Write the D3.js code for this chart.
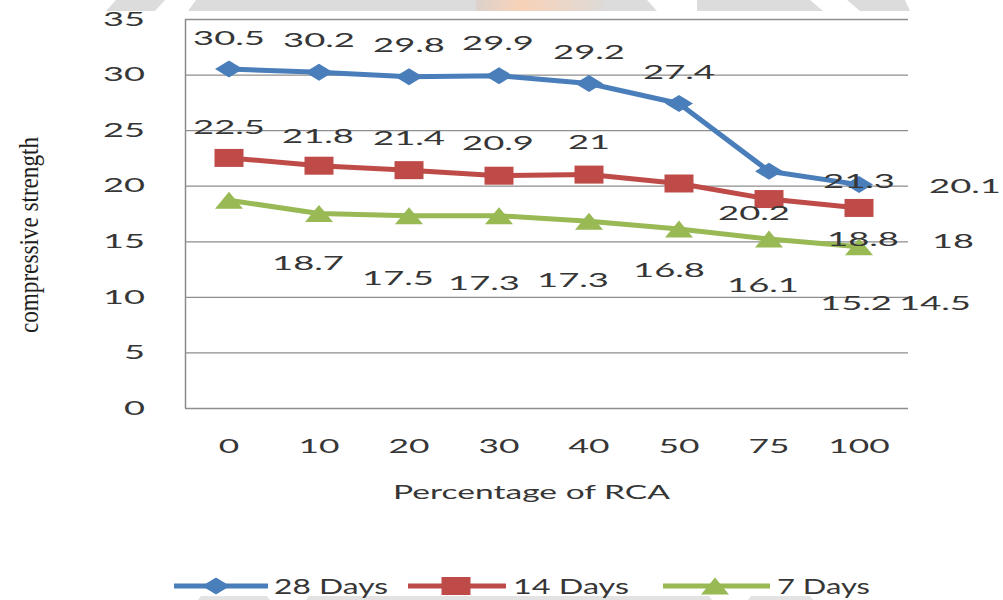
<!DOCTYPE html>
<html>
<head>
<meta charset="utf-8">
<script src="https://cdnjs.cloudflare.com/ajax/libs/d3/7.8.5/d3.min.js"></script>
<style>
  html, body { margin: 0; padding: 0; background: #fff; }
  svg { display: block; }
</style>
</head>
<body>
<svg id="chart" width="1003" height="600"></svg>
<script>
// ---------------- data ----------------
const categories = ["0", "10", "20", "30", "40", "50", "75", "100"];
const days28 = [30.5, 30.2, 29.8, 29.9, 29.2, 27.4, 21.3, 20.1];
const days14 = [22.5, 21.8, 21.4, 20.9, 21, 20.2, 18.8, 18];
const days7  = [18.7, 17.5, 17.3, 17.3, 16.8, 16.1, 15.2, 14.5];
const seriesNames = ["28 Days", "14 Days", "7 Days"];
const yTicks = [0, 5, 10, 15, 20, 25, 30, 35];
const xTitle = "Percentage of RCA";
const yTitle = "compressive strength";

// label placement offsets (pixels from the point to the label centre)
const lab28dx = [0, 0, 0, -1, 0, 0, 90, 106];
const lab28dy = [-31, -32, -32, -33, -31, -31, 10, 1];
const lab14dx = [0, -1, 0, -1, 0, 75, 94, 94];
const lab14dy = [-31, -30, -32, -33, -33, 30, 40, 33];
const lab7dx  = [79, 79, 75, 74, 80, 84, 87, 76];
const lab7dy  = [63, 64, 67, 64, 49, 56, 64, 56];

(function () {
// ---------------- setup ----------------
const svg = d3.select("#chart");
const FONT = "Lato, 'Open Sans', sans-serif";
const TXT = "#363636";
const pLeft = 185, pRight = 908, pTop = 19, pBottom = 408;

const x = d3.scaleBand().domain(categories).range([184, 904]);
const y = d3.scaleLinear().domain([0, 35]).range([pBottom, pTop]);
const cx = c => x(c) + x.bandwidth() / 2;

const colors = ["#4A7EBB", "#BE4B48", "#98B954"];

function textWidth(s, digitW, dotW) {
  let w = 0;
  for (const ch of s) w += (ch === "." ? dotW : digitW);
  return w;
}

// ---------------- watermark strips ----------------
const wm = svg.append("g");
const grad = svg.append("defs").append("linearGradient").attr("id", "og")
  .attr("x1", 0).attr("x2", 1);
grad.append("stop").attr("offset", 0).attr("stop-color", "#dcd2cc");
grad.append("stop").attr("offset", 0.35).attr("stop-color", "#f8d2b8");
grad.append("stop").attr("offset", 1).attr("stop-color", "#dedad7");
const wmShapes = [
  {p: [[106,11],[116,0],[165,0],[155,11]], f: "#dcdcdc"},
  {p: [[188,11],[196,0],[476,0],[476,11]], f: "#dcdcdc"},
  {p: [[476,0],[604,0],[604,11],[476,11]], f: "url(#og)"},
  {p: [[604,0],[647,0],[657,11],[604,11]], f: "#dcdcdc"},
  {p: [[697,0],[810,0],[823,11],[697,11]], f: "#dcdcdc"},
  {p: [[847,0],[905,0],[910,11],[860,11]], f: "#dcdcdc"},
  {p: [[198,600],[201,596],[267,596],[270,600]], f: "#e3e3e3"},
  {p: [[306,600],[309,596],[709,596],[712,600]], f: "#e3e3e3"},
  {p: [[748,600],[751,596],[810,596],[813,600]], f: "#e3e3e3"}
];
wm.selectAll("path").data(wmShapes).join("path")
  .attr("d", d => "M" + d.p.map(q => q.join(",")).join("L") + "Z")
  .attr("fill", d => d.f);

// ---------------- grid + y axis ----------------
const yAxis = d3.axisLeft(y).tickValues(yTicks)
  .tickSize(-(pRight - pLeft)).tickPadding(40).tickFormat(d3.format("d"));
const gy = svg.append("g").attr("transform", `translate(${pLeft},0)`).call(yAxis);
gy.select(".domain").attr("stroke", "#8a8a8a").attr("stroke-width", 1.5)
  .attr("d", `M0.5,${pTop}V${pBottom}`);
gy.selectAll(".tick line").attr("stroke", "#8e8e8e").attr("stroke-width", 1.3);
gy.selectAll(".tick text")
  .attr("fill", TXT).attr("font-family", FONT).attr("font-size", 19.5)
  .attr("textLength", d => textWidth(String(d), 21, 9))
  .attr("lengthAdjust", "spacingAndGlyphs");

// ---------------- x axis ----------------
const xAxis = d3.axisBottom(x).tickSize(0).tickPadding(31);
const gx = svg.append("g").attr("transform", `translate(0,${pBottom})`).call(xAxis);
gx.select(".domain").remove();
gx.selectAll(".tick text")
  .attr("fill", TXT).attr("font-family", FONT).attr("font-size", 19.5)
  .attr("textLength", d => textWidth(String(d), 20.5, 9))
  .attr("lengthAdjust", "spacingAndGlyphs");

// ---------------- titles ----------------
svg.append("text").text(xTitle)
  .attr("x", 393).attr("y", 499)
  .attr("fill", TXT).attr("font-family", FONT).attr("font-size", 20)
  .attr("textLength", 277).attr("lengthAdjust", "spacingAndGlyphs");

svg.append("text").text(yTitle)
  .attr("transform", "translate(38,235) rotate(-90)")
  .attr("x", -98).attr("y", 0)
  .attr("fill", "#1e1e1e").attr("font-family", "'Liberation Serif', 'Times New Roman', serif")
  .attr("font-size", 28)
  .attr("textLength", 196).attr("lengthAdjust", "spacingAndGlyphs");

// ---------------- series ----------------
const series = [
  {name: seriesNames[0], values: days28, color: colors[0], shape: "diamond", dx: lab28dx, dy: lab28dy},
  {name: seriesNames[1], values: days14, color: colors[1], shape: "square",  dx: lab14dx, dy: lab14dy},
  {name: seriesNames[2], values: days7,  color: colors[2], shape: "triangle", dx: lab7dx, dy: lab7dy}
];

function markerPath(shape) {
  if (shape === "diamond") { const w = 28, h = 17; return `M0,${-h/2}L${w/2},0L0,${h/2}L${-w/2},0Z`; }
  if (shape === "square")  { const w = 29, h = 18; return `M${-w/2},${-h/2}H${w/2}V${h/2}H${-w/2}Z`; }
  const w = 28, h = 17; return `M0,${-h/2}L${w/2},${h/2}L${-w/2},${h/2}Z`;
}

const line = d3.line().x((d, i) => cx(categories[i])).y(d => y(d));

series.forEach(s => {
  const g = svg.append("g");
  g.append("path").datum(s.values).attr("d", line)
    .attr("fill", "none").attr("stroke", s.color).attr("stroke-width", 5)
    .attr("stroke-linejoin", "round").attr("stroke-linecap", "round");
  g.selectAll("path.m").data(s.values).join("path").attr("class", "m")
    .attr("transform", (d, i) => `translate(${cx(categories[i])},${y(d)})`)
    .attr("d", markerPath(s.shape)).attr("fill", s.color);
});

// data labels (on top)
series.forEach(s => {
  svg.append("g").selectAll("text").data(s.values).join("text")
    .text(d => String(d))
    .each(function (d, i) {
      const w = textWidth(String(d), 21, 9);
      d3.select(this)
        .attr("x", cx(categories[i]) + s.dx[i] - w / 2)
        .attr("y", y(d) + s.dy[i] + 7)
        .attr("textLength", w);
    })
    .attr("lengthAdjust", "spacingAndGlyphs")
    .attr("fill", TXT).attr("font-family", FONT).attr("font-size", 19.5);
});

// ---------------- legend ----------------
const legendItems = [
  {lx0: 174, lx1: 268, mx: 216, tx: 274, tw: 114},
  {lx0: 408, lx1: 506, mx: 456, tx: 513, tw: 116},
  {lx0: 663, lx1: 770, mx: 715, tx: 777, tw: 93}
];
const lg = svg.append("g");
series.forEach((s, i) => {
  const it = legendItems[i];
  lg.append("line").attr("x1", it.lx0).attr("x2", it.lx1).attr("y1", 586).attr("y2", 586)
    .attr("stroke", s.color).attr("stroke-width", 5);
  lg.append("path").attr("transform", `translate(${it.mx},586)`)
    .attr("d", markerPath(s.shape)).attr("fill", s.color);
  lg.append("text").text(s.name).attr("x", it.tx).attr("y", 594)
    .attr("fill", TXT).attr("font-family", FONT).attr("font-size", 20.5)
    .attr("textLength", it.tw).attr("lengthAdjust", "spacingAndGlyphs");
});
})();
</script>
</body>
</html>
